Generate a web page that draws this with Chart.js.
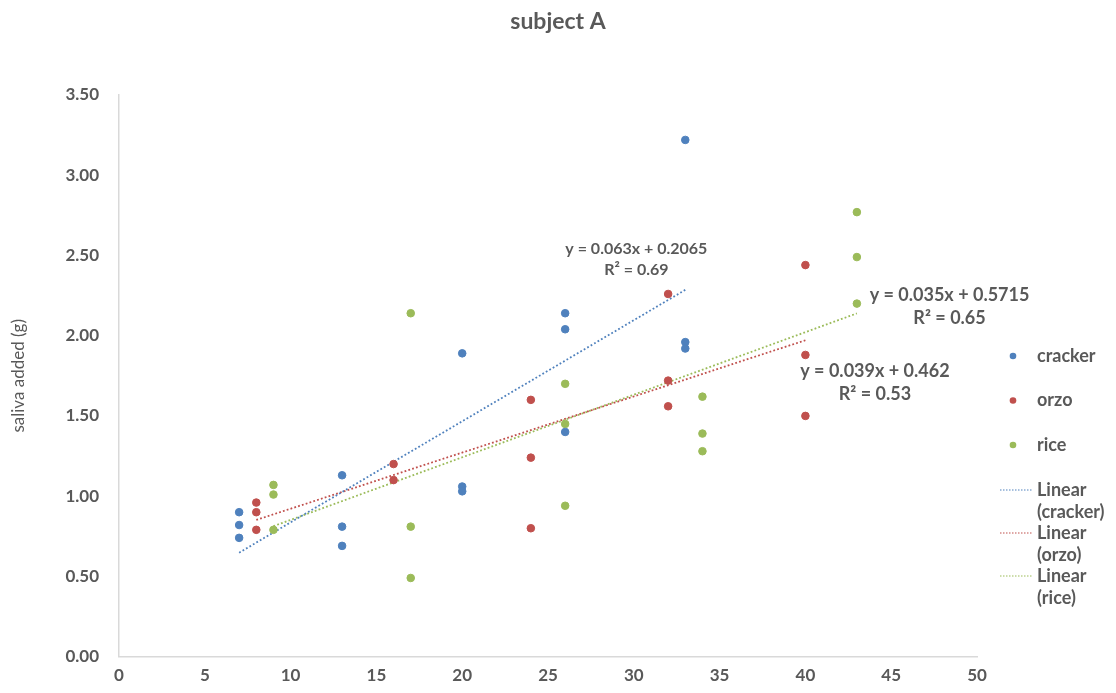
<!DOCTYPE html>
<html>
<head>
<meta charset="utf-8">
<script src="https://cdn.jsdelivr.net/npm/chart.js@4/dist/chart.umd.min.js"></script>
<style>
  html, body { margin: 0; padding: 0; background: #fff; }
  #wrap { width: 1116px; height: 693px; }
</style>
</head>
<body>
<div id="wrap"><canvas id="c" width="1116" height="693"></canvas></div>
<script>
// Chewing time (x) vs saliva added (g) for three foods
const crackerX = [7, 7, 7, 13, 13, 13, 20, 20, 20, 26, 26, 26, 33, 33, 33];
const crackerY = [0.90, 0.82, 0.74, 1.13, 0.81, 0.69, 1.89, 1.06, 1.03, 2.14, 2.04, 1.40, 3.22, 1.96, 1.92];

const orzoX = [8, 8, 8, 16, 16, 24, 24, 24, 32, 32, 32, 40, 40, 40];
const orzoY = [0.96, 0.90, 0.79, 1.20, 1.10, 1.60, 1.24, 0.80, 2.26, 1.72, 1.56, 2.44, 1.88, 1.50];

const riceX = [9, 9, 9, 17, 17, 17, 26, 26, 26, 34, 34, 34, 43, 43, 43];
const riceY = [1.07, 1.01, 0.79, 2.14, 0.81, 0.49, 1.70, 1.45, 0.94, 1.62, 1.39, 1.28, 2.77, 2.49, 2.20];

// Linear trend coefficients: [slope, intercept, R²]
const crackerFit = [0.063, 0.2065, 0.69];
const orzoFit = [0.035, 0.5715, 0.65];
const riceFit = [0.039, 0.462, 0.53];

const seriesNames = ['cracker', 'orzo', 'rice'];
const trendNames = ['Linear\n(cracker)', 'Linear\n(orzo)', 'Linear\n(rice)'];

const xTicks = [0, 5, 10, 15, 20, 25, 30, 35, 40, 45, 50];
const yTicks = [0, 0.5, 1.0, 1.5, 2.0, 2.5, 3.0, 3.5];

const BLUE = '#4F81BD', RED = '#C0504D', GREEN = '#9BBB59';
const TEXT = '#595959';
const FONT = 'Lato, "Liberation Sans", sans-serif';

function pts(xs, ys) { return xs.map((x, i) => ({ x: x, y: ys[i] })); }
function trend(xs, fit) {
  const x0 = Math.min(...xs), x1 = Math.max(...xs);
  return [{ x: x0, y: fit[0] * x0 + fit[1] }, { x: x1, y: fit[0] * x1 + fit[1] }];
}
function eqText(fit) {
  return ['y = ' + fit[0] + 'x + ' + fit[1], 'R\u00B2 = ' + fit[2].toFixed(2)];
}

// Equation label anchors (data coordinates, centre of first line) and font size
const eqLabels = [
  { fit: crackerFit, x: 30.15, y: 2.54, size: 16, gap: 21 },
  { fit: orzoFit, x: 48.4, y: 2.255, size: 18, gap: 23 },
  { fit: riceFit, x: 44.05, y: 1.78, size: 18, gap: 23 }
];

const scatterStyle = (c) => ({
  showLine: false, pointRadius: 3.8, pointHoverRadius: 3.8,
  pointBackgroundColor: c, pointBorderColor: c, borderColor: c, backgroundColor: c
});
const trendStyle = (c) => ({
  showLine: true, pointRadius: 0, borderColor: c, borderWidth: 1.8,
  borderDash: [1.8, 2.2], fill: false, tension: 0
});

const datasets = [
  Object.assign({ label: seriesNames[0], data: pts(crackerX, crackerY) }, scatterStyle(BLUE)),
  Object.assign({ label: seriesNames[1], data: pts(orzoX, orzoY) }, scatterStyle(RED)),
  Object.assign({ label: seriesNames[2], data: pts(riceX, riceY) }, scatterStyle(GREEN)),
  Object.assign({ label: trendNames[0], data: trend(crackerX, crackerFit) }, trendStyle(BLUE)),
  Object.assign({ label: trendNames[1], data: trend(orzoX, orzoFit) }, trendStyle(RED)),
  Object.assign({ label: trendNames[2], data: trend(riceX, riceFit) }, trendStyle(GREEN))
];

// Draws the title, trend-equation labels and the right-hand legend
const annotate = {
  id: 'annotate',
  afterDraw(chart) {
    const ctx = chart.ctx;
    const xs = chart.scales.x, ys = chart.scales.y;
    ctx.save();
    ctx.fillStyle = TEXT;
    ctx.textAlign = 'center';
    ctx.textBaseline = 'middle';

    ctx.font = 'bold 23px ' + FONT;
    ctx.fillText('subject A', chart.width / 2, 22);

    eqLabels.forEach(l => {
      ctx.font = 'bold ' + l.size + 'px ' + FONT;
      const cx = xs.getPixelForValue(l.x), cy = ys.getPixelForValue(l.y);
      const lines = eqText(l.fit);
      ctx.fillText(lines[0], cx, cy);
      ctx.fillText(lines[1], cx, cy + l.gap);
    });

    // legend
    const lx = 1013, tx = 1037;
    let y = 356;
    ctx.textAlign = 'left';
    ctx.font = 'bold 18px ' + FONT;
    chart.data.datasets.forEach((ds, i) => {
      const lines = ds.label.split('\n');
      if (!ds.showLine) {
        ctx.fillStyle = ds.pointBackgroundColor;
        ctx.beginPath();
        ctx.arc(lx, y, 3.3, 0, Math.PI * 2);
        ctx.fill();
        ctx.fillStyle = TEXT;
        ctx.fillText(lines[0], tx, y);
        y += 44.5;
        if (i === 2) y = 490;
      } else {
        ctx.strokeStyle = ds.borderColor;
        ctx.lineWidth = 1.2;
        ctx.setLineDash([1.5, 1.5]);
        ctx.beginPath();
        ctx.moveTo(1000, y);
        ctx.lineTo(1032, y);
        ctx.stroke();
        ctx.setLineDash([]);
        ctx.fillStyle = TEXT;
        lines.forEach((t, k) => ctx.fillText(t, tx, y + k * 22.5));
        y += 43;
      }
    });
    ctx.restore();
  }
};

new Chart(document.getElementById('c'), {
  type: 'scatter',
  data: { datasets: datasets },
  plugins: [annotate],
  options: {
    responsive: false,
    animation: false,
    layout: { padding: { top: 95, right: 139, bottom: 6, left: 8 } },
    plugins: {
      legend: { display: false },
      tooltip: { enabled: false },
      title: { display: false }
    },
    scales: {
      x: {
        type: 'linear', min: 0, max: 50,
        afterBuildTicks: s => { s.ticks = xTicks.map(v => ({ value: v })); },
        grid: { display: false },
        border: { display: true, color: '#D9D9D9', width: 1.5 },
        ticks: { color: TEXT, font: { family: FONT, size: 17, weight: 'bold' }, padding: 1 }
      },
      y: {
        type: 'linear', min: 0, max: 3.5,
        afterBuildTicks: s => { s.ticks = yTicks.map(v => ({ value: v })); },
        grid: { display: false },
        border: { display: true, color: '#D9D9D9', width: 1.5 },
        title: {
          display: true, text: 'saliva added (g)', color: TEXT,
          font: { family: FONT, size: 17 }, padding: { top: 0, bottom: 25 }
        },
        ticks: {
          color: TEXT, font: { family: FONT, size: 17, weight: 'bold' }, padding: 12,
          callback: v => Number(v).toFixed(2)
        }
      }
    }
  }
});
</script>
</body>
</html>
